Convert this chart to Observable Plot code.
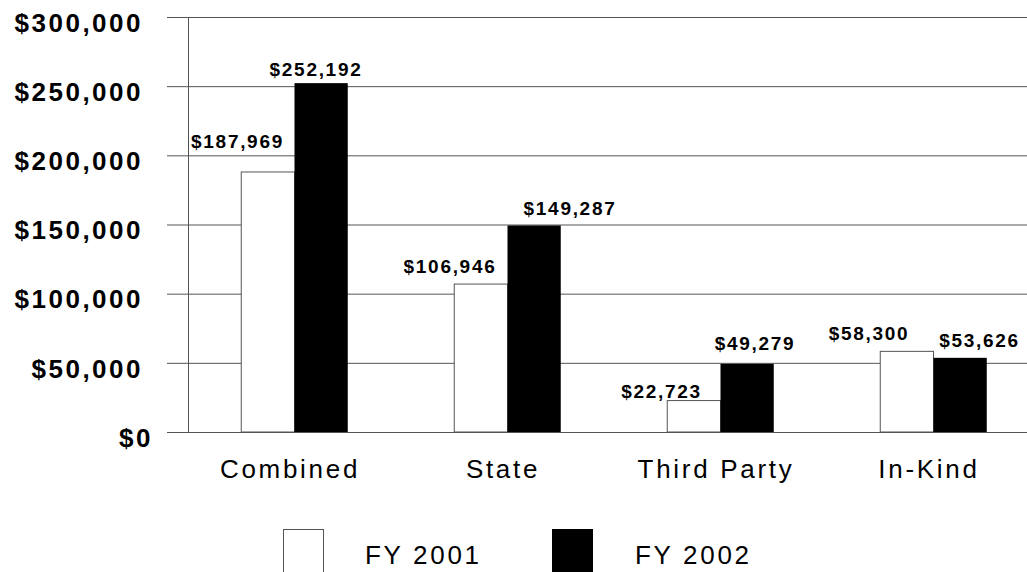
<!DOCTYPE html>
<html>
<head>
<meta charset="utf-8">
<script src="https://cdn.jsdelivr.net/npm/d3@7"></script>
<script src="https://cdn.jsdelivr.net/npm/@observablehq/plot@0.6"></script>
<style>
  html, body { margin: 0; padding: 0; background: #fff; overflow: hidden; width: 1027px; height: 572px; }
  #chart { width: 1027px; height: 500px; overflow: hidden; }
  #chart svg { display: block; max-width: none !important; }
  #legend { position: relative; height: 72px; width: 1027px; font-family: 'Liberation Sans', Arial, sans-serif; font-size: 26px; letter-spacing: 2.7px; color: #000; }
  #legend .sw { position: absolute; top: 29px; width: 41px; height: 45px; box-sizing: border-box; }
  #legend .lab { position: absolute; top: 42px; line-height: 26px; white-space: nowrap; }
</style>
</head>
<body>
<div id="chart"></div>
<div id="legend"></div>
<script>
const categories = ["Combined", "State", "Third Party", "In-Kind"];
const fy2001 = [187969, 106946, 22723, 58300];
const fy2002 = [252192, 149287, 49279, 53626];
const seriesNames = ["FY 2001", "FY 2002"];
const yTicks = [0, 50000, 100000, 150000, 200000, 250000, 300000];

const fmt = d => "$" + d3.format(",")(d);

const rows2001 = categories.map((c, i) => ({category: c, series: seriesNames[0], value: fy2001[i]}));
const rows2002 = categories.map((c, i) => ({category: c, series: seriesNames[1], value: fy2002[i]}));

// label nudges (layout only), per category: [dx, dy] for 2001 and 2002
const nudge2001 = {"Combined": [-57.5, -24], "State": [-58, -12], "Third Party": [-59.5, -3], "In-Kind": [-65, -12]};
const nudge2002 = {"Combined": [21, -8], "State": [62, -10.5], "Third Party": [34, -14], "In-Kind": [45.5, -11]};

const labelMarks = [];
for (const r of rows2001) {
  const [dx, dy] = nudge2001[r.category];
  labelMarks.push(Plot.text([r], {x: "category", y: "value", text: d => fmt(d.value), dx, dy, lineAnchor: "bottom", fontSize: 19, fontWeight: "bold", fill: "#000"}));
}
for (const r of rows2002) {
  const [dx, dy] = nudge2002[r.category];
  labelMarks.push(Plot.text([r], {x: "category", y: "value", text: d => fmt(d.value), dx, dy, lineAnchor: "bottom", fontSize: 19, fontWeight: "bold", fill: "#000"}));
}

const yLabelOpts = {tickSize: 21, tickFormat: fmt, fontSize: 26, fontWeight: "bold", dy: 6, stroke: "none", fill: "#000", label: null};

const plot = Plot.plot({
  width: 1040,
  height: 500,
  marginLeft: 188,
  marginRight: 0,
  marginTop: 17,
  marginBottom: 68,
  style: {fontFamily: "'Liberation Sans', Arial, sans-serif", letterSpacing: "2.7px", background: "#fff", color: "#000", overflow: "visible", maxWidth: "none"},
  x: {domain: categories, padding: 0, label: null},
  y: {domain: [0, 300000], label: null},
  marks: [
    Plot.gridY({ticks: yTicks, stroke: "#555", strokeOpacity: 1}),
    Plot.ruleX([categories[0]], {x: d => d, dx: -106.5, y1: 0, y2: 300000, stroke: "#555"}),
    Plot.axisY({ticks: yTicks, tickSize: 21, stroke: "#555", fill: "none", label: null}),
    Plot.axisY({ticks: yTicks.filter(t => t > 0), tickPadding: 24.5, ...yLabelOpts}),
    Plot.axisY({ticks: [0], tickPadding: 14.5, ...yLabelOpts}),
    Plot.axisX({tickSize: 0, tickPadding: 27, fontSize: 26, dx: -5, fill: "#000", label: null}),
    Plot.barY(rows2001, {x: "category", y: "value", fill: "#fff", stroke: "#555", strokeWidth: 1, insetLeft: 53.25, insetRight: 106.5}),
    Plot.barY(rows2002, {x: "category", y: "value", fill: "#000", insetLeft: 106.5, insetRight: 53.25}),
    ...labelMarks
  ]
});

d3.select(plot).selectAll('g[aria-label="text"] text').style("letter-spacing", "1.7px");
d3.select(plot).selectAll('g[aria-label="y-axis tick label"] text').style("letter-spacing", "2.5px");
document.getElementById("chart").appendChild(plot);

// legend
const legend = d3.select("#legend");
const swatchLeft = [283, 552];
const labelLeft = [365, 635];
seriesNames.forEach((name, i) => {
  legend.append("div").attr("class", "sw")
    .style("left", swatchLeft[i] + "px")
    .style("background", i === 0 ? "#fff" : "#000")
    .style("border", i === 0 ? "1px solid #555" : "none");
  legend.append("div").attr("class", "lab")
    .style("left", labelLeft[i] + "px")
    .text(name);
});
</script>
</body>
</html>
